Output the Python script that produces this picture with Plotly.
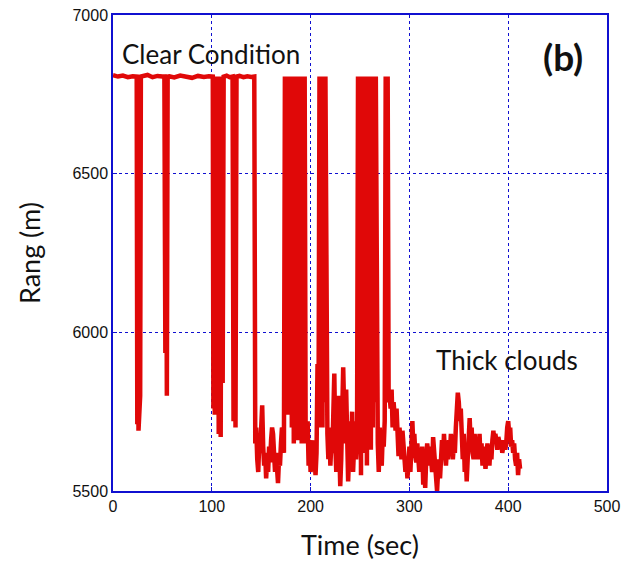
import plotly.graph_objects as go

# ---- data ----
time_s = [
    0, 5, 10, 15, 20, 24,
    24.6, 25.2, 25.8, 26.5, 27.5, 28.2,
    31, 35, 40, 45, 50, 52,
    53, 53.6, 54.5, 55.3,
    57, 62, 68, 74, 80, 86, 92, 97, 101,
    101.6, 102.2, 103, 104, 105, 106, 107, 108, 109, 110, 111, 112,
    115, 118, 121,
    122, 123, 124, 125,
    128, 132, 136, 140, 143,
    144, 145, 146, 147, 148, 149, 150, 151, 152, 153, 154, 155, 156, 157, 158, 159,
    160, 161, 162, 163, 164, 165, 166, 167, 168, 169, 170, 171, 172, 173,
    174, 175, 176, 177, 178, 179,
    180, 181, 182, 183, 184, 185, 186, 187, 188, 189, 190, 191, 192, 193, 194, 195, 196,
    197, 198, 199, 200, 201, 202, 203, 204, 205, 206, 207, 208,
    209, 210, 211, 212, 213, 214, 215, 216, 217,
    218, 219, 220, 221, 222, 223, 224, 225, 226, 227, 228, 229, 230, 231, 232, 233,
    234, 235, 236, 237, 238, 239, 240, 241, 242, 243, 244, 245, 246, 247,
    248, 249, 250, 251, 252, 253, 254, 255, 256, 257, 258, 259, 260, 261, 262, 263,
    264, 265, 266, 267,
    268, 269, 270, 271, 272, 273, 274, 275,
    276, 277, 278, 279,
    280, 281, 282, 283, 284, 285, 286, 287, 288, 289, 290, 291, 292, 293, 294, 295,
    296, 297, 298, 299, 300, 301, 302, 303, 304, 305, 306, 307, 308, 309, 310, 311,
    312, 313, 314, 315, 316, 317, 318, 319, 320, 321, 322, 323, 324, 325, 326, 327,
    328, 329, 330, 331, 332, 333, 334, 335, 336, 337, 338, 339, 340, 341, 342, 343,
    344, 345, 346, 347, 348, 349, 350, 351, 352, 353, 354, 355, 356, 357, 358, 359,
    360, 361, 362, 363, 364, 365, 366, 367, 368, 369, 370, 371, 372, 373, 374, 375,
    376, 377, 378, 379, 380, 381, 382, 383, 384, 385, 386, 387, 388, 389, 390, 391,
    392, 393, 394, 395, 396, 397, 398, 399, 400, 401, 402, 403, 404, 405, 406, 407,
    408, 409, 410, 411, 412,
]

range_m = [
    6810, 6806, 6809, 6804, 6807, 6806,
    5710, 6806, 5690, 5720, 5800, 6806,
    6808, 6811, 6804, 6808, 6806, 6806,
    5935, 6806, 5800, 6806,
    6807, 6803, 6809, 6806, 6802, 6808, 6805, 6807, 6806,
    5760, 6806, 5740, 6806, 5800, 6806, 5680, 6806, 5670, 6806, 5840, 6806,
    6809, 6804, 6806,
    5720, 6806, 5700, 6806,
    6808, 6804, 6807, 6805, 6806,
    5650, 5700, 5600, 5560, 5650, 5620, 5700, 5770, 5640, 5580, 5620, 5540, 5600, 5560, 5640, 5590,
    5660, 5700, 5680, 5600, 5560, 5620, 5540, 5525, 5600, 5580, 5650, 5700, 5690, 5620,
    6806, 5750, 6806, 5740, 6806, 5800,
    6806, 5700, 6806, 5650, 6806, 5720, 6806, 5660, 6806, 5700, 6806, 5650, 6806, 5680, 6806, 5650, 5700,
    5720, 5580, 5650, 5560, 5600, 5660, 5570, 5600, 5550, 5620, 5900, 5700,
    6806, 5750, 6806, 5700, 6806, 5780, 6806, 5720, 5680,
    5600, 5700, 5580, 5650, 5620, 5700, 5870, 5650, 5560, 5720, 5800, 5640, 5515, 5600, 5700, 5890,
    5750, 5650, 5820, 5700, 5530, 5620, 5720, 5600, 5750, 5560, 5680, 5720, 5600, 5650,
    6806, 5650, 6806, 5550, 6806, 5700, 6806, 5620, 6806, 5580, 6806, 5650, 6806, 5630, 6806, 5700,
    6806, 5780, 6806, 5720,
    5650, 5560, 5700, 5600, 5580, 5680, 5640, 5720,
    6806, 5900, 6806, 5780,
    5800, 5760, 5820, 5700, 5780, 5740, 5690, 5760, 5640, 5610, 5700, 5660, 5600, 5690, 5650, 5620,
    5560, 5600, 5540, 5580, 5640, 5560, 5700, 5720, 5640, 5680, 5610, 5590, 5650, 5600, 5560, 5620,
    5590, 5640, 5520, 5580, 5510, 5600, 5650, 5620, 5580, 5640, 5600, 5560, 5670, 5620, 5580, 5540,
    5500, 5560, 5600, 5540, 5620, 5660, 5600, 5680, 5620, 5580, 5640, 5600, 5660, 5620, 5680, 5640,
    5600, 5650, 5620, 5700, 5760, 5810, 5780, 5720, 5760, 5650, 5600, 5680, 5560, 5620, 5530, 5600,
    5660, 5730, 5650, 5700, 5620, 5600, 5680, 5640, 5600, 5660, 5620, 5680, 5600, 5650, 5580, 5640,
    5620, 5570, 5600, 5650, 5610, 5580, 5640, 5600, 5660, 5690, 5650, 5680, 5660, 5630, 5670, 5650,
    5640, 5660, 5620, 5640, 5660, 5630, 5650, 5700, 5720, 5680, 5700, 5640, 5660, 5620, 5650, 5600,
    5580, 5620, 5550, 5600, 5570,
]

x_ticks = [0, 100, 200, 300, 400, 500]
y_ticks = [5500, 6000, 6500, 7000]

x_title = "Time (sec)"
y_title = "Rang (m)"
label_clear = "Clear Condition"
label_clouds = "Thick clouds"
panel_label = "(b)"

# ---- figure ----
BLUE = "#1010d0"
TEXT_FONT = "Lato, sans-serif"
fig = go.Figure()
fig.add_trace(go.Scatter(
    x=time_s, y=range_m, mode="lines",
    line=dict(color="#e00808", width=4.5),
    showlegend=False, hoverinfo="skip",
))

axis_common = dict(
    showline=True, linecolor=BLUE, linewidth=1.5, mirror=True,
    showgrid=True, gridcolor=BLUE, griddash="dot", gridwidth=1,
    ticks="inside", ticklen=4, tickcolor=BLUE, tickwidth=1,
    zeroline=False, automargin=False,
    tickfont=dict(family="Liberation Sans, Arial, sans-serif", size=16, color="#111111"),
)

fig.update_xaxes(
    range=[0, 500], tickvals=x_ticks, ticktext=[str(v) for v in x_ticks],
    title=dict(text=x_title, font=dict(family=TEXT_FONT, size=27, color="#111111"), standoff=22),
    **axis_common,
)
fig.update_yaxes(
    range=[5500, 7000], tickvals=y_ticks, ticktext=[str(v) for v in y_ticks],
    title=dict(text=y_title, font=dict(family=TEXT_FONT, size=27, color="#111111"), standoff=24),
    **axis_common,
)

fig.add_annotation(text=label_clear, xref="paper", yref="paper", x=0.198, y=0.918,
                   xanchor="center", yanchor="middle",
                   showarrow=False, font=dict(family=TEXT_FONT, size=26, color="#111111"))
fig.add_annotation(text=label_clouds, xref="paper", yref="paper", x=0.798, y=0.275,
                   xanchor="center", yanchor="middle",
                   showarrow=False, font=dict(family=TEXT_FONT, size=26, color="#111111"))
fig.add_annotation(text="<b>" + panel_label + "</b>", xref="paper", yref="paper", x=0.911, y=0.912,
                   xanchor="center", yanchor="middle",
                   showarrow=False, font=dict(family=TEXT_FONT, size=37, color="#111111"))

fig.update_layout(
    width=626, height=563,
    margin=dict(l=113, r=19, t=15, b=72),
    paper_bgcolor="white", plot_bgcolor="white",
)

fig.write_html("out.html")
